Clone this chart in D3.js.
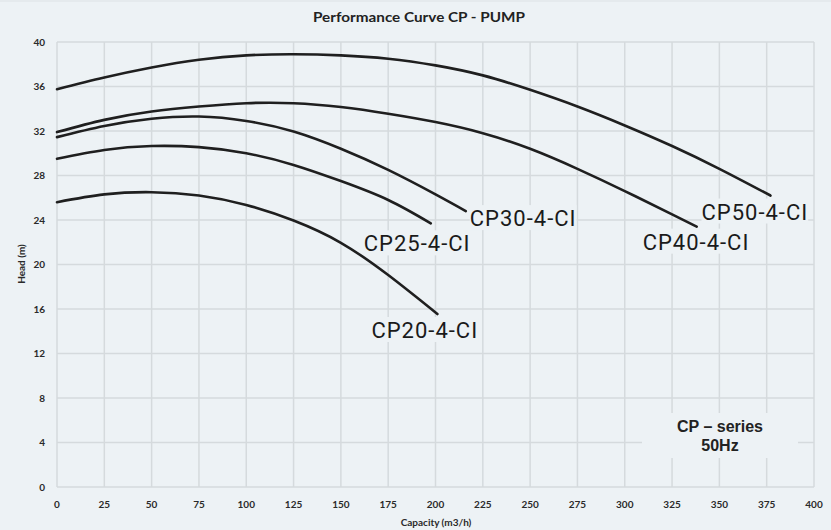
<!DOCTYPE html>
<html><head><meta charset="utf-8">
<script src="https://cdn.jsdelivr.net/npm/d3@7"></script>
<style>html,body{margin:0;padding:0;background:#edf2f5;}svg{display:block}</style>
</head><body>
<svg id="chart" width="831" height="530"></svg>
<script>
// ---- data ----
const xTickValues = [0,25,50,75,100,125,150,175,200,225,250,275,300,325,350,375,400];
const yTickValues = [0,4,8,12,16,20,24,28,32,36,40];
const seriesNames = ["CP20-4-CI","CP25-4-CI","CP30-4-CI","CP40-4-CI","CP50-4-CI"];
const cp20Capacity = [0,25,50,75,100,125,150,175,201];
const cp20Head     = [25.6,26.3,26.5,26.2,25.35,23.95,21.95,19.05,15.55];
const cp25Capacity = [0,25,50,75,100,125,150,175,197.5];
const cp25Head     = [29.5,30.3,30.65,30.55,30.0,28.95,27.5,25.8,23.7];
const cp30Capacity = [0,25,50,75,100,125,150,175,200,216];
const cp30Head     = [31.45,32.45,33.1,33.3,32.9,31.95,30.4,28.5,26.3,24.8];
const cp40Capacity = [0,25,50,75,100,125,150,175,200,225,250,275,300,325,338];
const cp40Head     = [31.9,33.0,33.75,34.2,34.5,34.5,34.15,33.55,32.8,31.8,30.4,28.6,26.6,24.5,23.4];
const cp50Capacity = [0,25,50,75,100,125,150,175,200,225,250,275,300,325,350,377];
const cp50Head     = [35.75,36.8,37.7,38.4,38.8,38.9,38.8,38.5,37.9,37.0,35.7,34.2,32.5,30.65,28.6,26.2];
const titleText = "Performance Curve CP - PUMP";
const xTitle = "Capacity (m3/h)";
const yTitle = "Head (m)";
const noteLines = ["CP \u2013 series","50Hz"];

// ---- build ----
const series = [
  {name:seriesNames[0], q:cp20Capacity, h:cp20Head},
  {name:seriesNames[1], q:cp25Capacity, h:cp25Head},
  {name:seriesNames[2], q:cp30Capacity, h:cp30Head},
  {name:seriesNames[3], q:cp40Capacity, h:cp40Head},
  {name:seriesNames[4], q:cp50Capacity, h:cp50Head}
].map(s => ({name:s.name, pts:s.q.map((q,i)=>({q, h:s.h[i]}))}));

// label offsets from each curve's end point (px)
const labelOffset = {
  "CP20-4-CI":[-66,24], "CP25-4-CI":[-67,28], "CP30-4-CI":[4,15],
  "CP40-4-CI":[-54,23], "CP50-4-CI":[-69,24]
};

const BG = "#edf2f5";
const svg = d3.select("#chart");
const x = d3.scaleLinear().domain([0,400]).range([57,814]);
const y = d3.scaleLinear().domain([0,40]).range([487,42]);

svg.append("rect").attr("width",831).attr("height",530).attr("fill",BG);
svg.append("line").attr("x1",0).attr("x2",831).attr("y1",1).attr("y2",1)
  .attr("stroke","#dde2e5").attr("stroke-width",1);

const grid = svg.append("g").attr("stroke","#d5dadd").attr("stroke-width",1.5);
grid.selectAll(".vx").data(xTickValues).join("line")
  .attr("x1",d=>x(d)).attr("x2",d=>x(d)).attr("y1",y(0)).attr("y2",y(40));
grid.selectAll(".hy").data(yTickValues).join("line")
  .attr("y1",d=>y(d)).attr("y2",d=>y(d)).attr("x1",x(0)).attr("x2",x(400));

// tick labels
const tickFont = "Lato, 'Open Sans', sans-serif";
svg.append("g").selectAll("text").data(xTickValues).join("text")
  .attr("x",d=>x(d)).attr("y",508).attr("text-anchor","middle")
  .attr("font-family",tickFont).attr("font-weight","bold").attr("font-size",10)
  .attr("fill","#2a2a2a").text(d=>d);
svg.append("g").selectAll("text").data(yTickValues).join("text")
  .attr("x",45).attr("y",d=>y(d)+3.5).attr("text-anchor","end")
  .attr("font-family",tickFont).attr("font-weight","bold").attr("font-size",10)
  .attr("fill","#2a2a2a").text(d=>d);

// titles
svg.append("text").attr("x",419).attr("y",22).attr("text-anchor","middle")
  .attr("font-family",tickFont).attr("font-weight","bold").attr("font-size",12.5)
  .attr("fill","#222").attr("textLength",212).attr("lengthAdjust","spacingAndGlyphs")
  .text(titleText);
svg.append("text").attr("x",436).attr("y",526).attr("text-anchor","middle")
  .attr("font-family",tickFont).attr("font-weight","bold").attr("font-size",10)
  .attr("fill","#2a2a2a").text(xTitle);
svg.append("text").attr("transform","translate(25,264) rotate(-90)").attr("text-anchor","middle")
  .attr("font-family",tickFont).attr("font-weight","bold").attr("font-size",10)
  .attr("fill","#2a2a2a").text(yTitle);

// curve labels with background boxes
const lab = svg.append("g");
series.forEach(s => {
  const end = s.pts[s.pts.length-1];
  const off = labelOffset[s.name];
  const tx = x(end.q)+off[0], ty = y(end.h)+off[1];
  const g = lab.append("g");
  const bgRect = g.append("rect").attr("fill",BG);
  const t = g.append("text").attr("x",tx).attr("y",ty)
    .attr("font-family","Roboto, sans-serif").attr("font-size",22)
    .attr("letter-spacing",1).attr("fill","#1a1a1a").text(s.name);
  const b = t.node().getBBox();
  bgRect.attr("x",tx).attr("y",ty-21).attr("width",b.width).attr("height",25);
});

// curves
const line = d3.line().x(d=>x(d.q)).y(d=>y(d.h)).curve(d3.curveNatural);
svg.append("g").selectAll("path").data(series).join("path")
  .attr("d",d=>line(d.pts)).attr("fill","none")
  .attr("stroke","#1f1f1f").attr("stroke-width",2.6).attr("stroke-linecap","round");

// note box
const noteG = svg.append("g");
noteG.append("rect").attr("x",642).attr("y",413).attr("width",156).attr("height",45).attr("fill",BG);
noteG.selectAll("text").data(noteLines).join("text")
  .attr("x",720).attr("y",(d,i)=>432+i*19).attr("text-anchor","middle")
  .attr("font-family","'Liberation Sans', Arial, sans-serif").attr("font-weight","bold")
  .attr("font-size",16).attr("fill","#222").text(d=>d);
</script>
</body></html>
